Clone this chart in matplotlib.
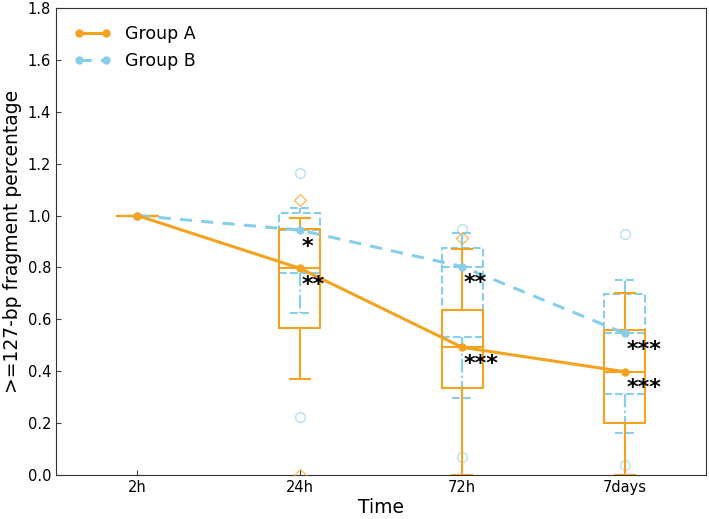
import matplotlib
matplotlib.use("Agg")
import matplotlib.pyplot as plt
import numpy as np

categories = ["2h", "24h", "72h", "7days"]

# Median line values
group_a_line = [1.0, 0.797, 0.492, 0.398]
group_b_line = [1.0, 0.944, 0.803, 0.546]

# Box statistics
group_a_whislo = [1.0, 0.369, 0.0, 0.0]
group_a_q1 = [1.0, 0.566, 0.334, 0.202]
group_a_med = [1.0, 0.797, 0.495, 0.398]
group_a_q3 = [1.0, 0.948, 0.636, 0.559]
group_a_whishi = [1.0, 0.99, 0.871, 0.70]
group_a_fliers = [[], [1.06, 0.0], [0.912], []]

group_b_whislo = [1.0, 0.623, 0.296, 0.161]
group_b_q1 = [1.0, 0.778, 0.533, 0.312]
group_b_med = [1.0, 0.944, 0.803, 0.546]
group_b_q3 = [1.0, 1.009, 0.874, 0.698]
group_b_whishi = [1.0, 1.03, 0.932, 0.752]
group_b_fliers = [[], [1.165, 0.225], [0.948, 0.07], [0.929, 0.039]]

stars_a = ["", "**", "***", "***"]
stars_b = ["", "*", "**", "***"]

orange = "#F4A320"
blue = "#87CEEB"

fig = plt.figure(figsize=(7.09, 5.19), dpi=100)
ax = fig.add_axes([56/709, 1-475/519, (706-56)/709, (475-8)/519])

pos = np.arange(1, len(categories) + 1)

def stats(wl, q1, med, q3, wh, fl):
    out = []
    for i in range(len(wl)):
        out.append(dict(whislo=wl[i], q1=q1[i], med=med[i], q3=q3[i],
                        whishi=wh[i], fliers=fl[i]))
    return out

sa = stats(group_a_whislo, group_a_q1, group_a_med, group_a_q3, group_a_whishi, group_a_fliers)
sb = stats(group_b_whislo, group_b_q1, group_b_med, group_b_q3, group_b_whishi, group_b_fliers)

ax.bxp(sb, positions=pos, widths=0.25, showfliers=True,
       boxprops=dict(color=blue, linestyle="--", linewidth=1.5),
       whiskerprops=dict(color=blue, linestyle="-.", linewidth=1.5),
       capprops=dict(color=blue, linestyle="--", linewidth=1.5),
       medianprops=dict(color=blue, linestyle="--", linewidth=1.5),
       flierprops=dict(marker="o", markerfacecolor="none", markeredgecolor=blue,
                       markersize=7, alpha=0.6),
       zorder=2)
ax.bxp(sa, positions=pos, widths=0.25, showfliers=True,
       boxprops=dict(color=orange, linewidth=1.5),
       whiskerprops=dict(color=orange, linewidth=1.5),
       capprops=dict(color=orange, linewidth=1.5),
       medianprops=dict(color=orange, linewidth=1.5),
       flierprops=dict(marker="D", markerfacecolor="none", markeredgecolor=orange,
                       markersize=6.5, alpha=0.7),
       zorder=3)

ax.plot(pos, group_a_line, color=orange, linewidth=2.2, marker="o", markersize=5,
        label="Group A", zorder=5)
ax.plot(pos, group_b_line, color=blue, linewidth=2.2, linestyle="--", dashes=(4, 3),
        marker="o", markersize=5, label="Group B", zorder=4)

for i in range(len(categories)):
    if stars_b[i]:
        ax.text(pos[i] + 0.01, group_b_line[i] - 0.025, stars_b[i], ha="left", va="top",
                fontsize=16, fontweight="bold", color="black", zorder=6)
    if stars_a[i]:
        ax.text(pos[i] + 0.01, group_a_line[i] - 0.025, stars_a[i], ha="left", va="top",
                fontsize=16, fontweight="bold", color="black", zorder=6)

ax.set_xlim(0.5, 4.5)
ax.set_ylim(0.0, 1.8)
ax.set_yticks(np.arange(0, 1.81, 0.2))
ax.set_xticks(pos)
ax.set_xticklabels(categories)
ax.tick_params(direction="in", labelsize=10.5, top=False, right=False, color="#444444")
ax.set_xlabel("Time", fontsize=13.5, labelpad=2)
ax.set_ylabel(">=127-bp fragment percentage", fontsize=13.5)
for s in ax.spines.values():
    s.set_color("#333333")

ax.legend(loc="upper left", frameon=False, fontsize=12.5, numpoints=2,
          handlelength=2.2, borderaxespad=0.6)

fig.savefig("out.png", dpi=100)
